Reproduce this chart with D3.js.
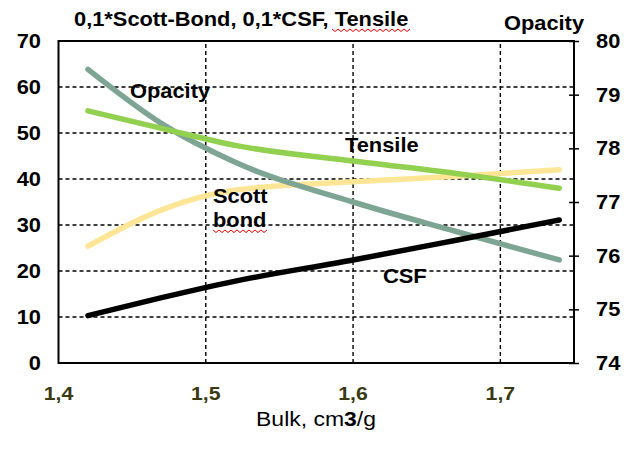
<!DOCTYPE html>
<html>
<head>
<meta charset="utf-8">
<script src="https://cdn.jsdelivr.net/npm/d3@7"></script>
<style>
  body { margin: 0; background: #fff; }
  text { font-family: "Liberation Sans", Arial, sans-serif; }
</style>
</head>
<body>
<svg id="chart" width="635" height="450"></svg>
<script>
const W = 635, H = 450;
const margin = { top: 41, right: 61, bottom: 87, left: 58.5 };
const SX = 1.12; // the original text is a bit wider than Arial

// bulk values (cm3/g) where the curves were read
const bulk = [1.42, 1.47, 1.52, 1.6, 1.67, 1.74];
// left axis series
const scottBond = [25.4, 33.3, 37.6, 39.4, 40.6, 42.0];
const csf = [10.3, 14.2, 17.8, 22.4, 26.7, 31.1];
const tensile = [54.8, 51.0, 47.3, 43.9, 41.2, 38.0];
// right axis series
const opacity = [79.47, 78.46, 77.74, 77.0, 76.45, 75.92];

const xTicks = [1.4, 1.5, 1.6, 1.7];
const leftTicks = [0, 10, 20, 30, 40, 50, 60, 70];
const rightTicks = [74, 75, 76, 77, 78, 79, 80];

const svg = d3.select("#chart");
const x = d3.scaleLinear().domain([1.4, 1.75]).range([margin.left, W - margin.right]);
const yL = d3.scaleLinear().domain([0, 70]).range([H - margin.bottom, margin.top]);
const yR = d3.scaleLinear().domain([74, 80]).range([H - margin.bottom, margin.top]);

const comma = d => d3.format(".1f")(d).replace(".", ",");

// dashed grid
const grid = svg.append("g").attr("stroke", "#000").attr("stroke-width", 1.4).attr("stroke-dasharray", "4,3");
grid.selectAll("line.h").data(leftTicks.filter(d => d > 0 && d < 70)).join("line")
  .attr("x1", x.range()[0]).attr("x2", x.range()[1])
  .attr("y1", d => yL(d)).attr("y2", d => yL(d));
grid.selectAll("line.v").data(xTicks.filter(d => d > 1.4)).join("line")
  .attr("x1", d => x(d)).attr("x2", d => x(d))
  .attr("y1", yL.range()[0]).attr("y2", yL.range()[1]);

// frame
svg.append("rect")
  .attr("x", x.range()[0]).attr("y", margin.top)
  .attr("width", x.range()[1] - x.range()[0]).attr("height", yL.range()[0] - margin.top)
  .attr("fill", "none").attr("stroke", "#000").attr("stroke-width", 2);

// axes (labels drawn by hand below so they can be stretched)
const rightAxis = svg.append("g").attr("transform", `translate(${x.range()[1]},0)`)
  .call(d3.axisRight(yR).tickValues(rightTicks).tickSize(5).tickFormat(""));
rightAxis.select(".domain").remove();
rightAxis.selectAll(".tick line").attr("x1", -5).attr("stroke-width", 1.5);

// lines
const series = [
  { values: scottBond, axis: yL, color: "#ffe596" },
  { values: opacity, axis: yR, color: "#7ea594" },
  { values: tensile, axis: yL, color: "#92d050" },
  { values: csf, axis: yL, color: "#000000" }
];
series.forEach(s => {
  const line = d3.line().x((d, i) => x(bulk[i])).y(d => s.axis(d)).curve(d3.curveMonotoneX);
  svg.append("path").datum(s.values).attr("d", line)
    .attr("fill", "none").attr("stroke", s.color).attr("stroke-width", 5.5)
    .attr("stroke-linecap", "round").attr("stroke-linejoin", "round");
});

// texts
function label(t, px, py, size, weight, anchor, fill) {
  return svg.append("text")
    .attr("transform", `translate(${px},${py}) scale(${SX},1)`)
    .attr("font-size", size).attr("font-weight", weight || "bold")
    .attr("text-anchor", anchor || "start").attr("fill", fill || "#000").text(t);
}
function wavy(x0, x1, y0) {
  let p = `M${x0},${y0}`;
  for (let xx = x0, k = 0; xx < x1; xx += 3, k++) p += `L${xx + 3},${y0 + (k % 2 ? 0 : 2.5)}`;
  svg.append("path").attr("d", p).attr("fill", "none").attr("stroke", "#e00").attr("stroke-width", 1);
}

leftTicks.forEach(d => label(String(d), 41, yL(d) + 7, 19.5, "bold", "end"));
rightTicks.forEach(d => label(String(d), 596, yR(d) + 7, 19.5, "bold", "start"));
xTicks.forEach(d => label(comma(d), x(d), 400, 19, "bold", "middle", "#3a3a12"));

label("0,1*Scott-Bond, 0,1*CSF, Tensile", 74, 26, 19.5);
label("Opacity", 544, 30, 19.5, "bold", "middle");
label("Opacity", 130, 98, 19.5);
label("Tensile", 345, 152, 19.5);
label("Scott", 213, 203, 19.5);
label("bond", 213, 227, 19.5);
label("CSF", 383, 283, 19.5);

const xt = svg.append("text").attr("transform", `translate(316,426) scale(${SX},1)`)
  .attr("text-anchor", "middle").attr("font-size", 20.5);
xt.append("tspan").text("Bulk, cm");
xt.append("tspan").attr("font-weight", "bold").text("3");
xt.append("tspan").text("/g");

// spell-check squiggles
wavy(332, 410, 29);
wavy(213, 265, 230);
</script>
</body>
</html>
